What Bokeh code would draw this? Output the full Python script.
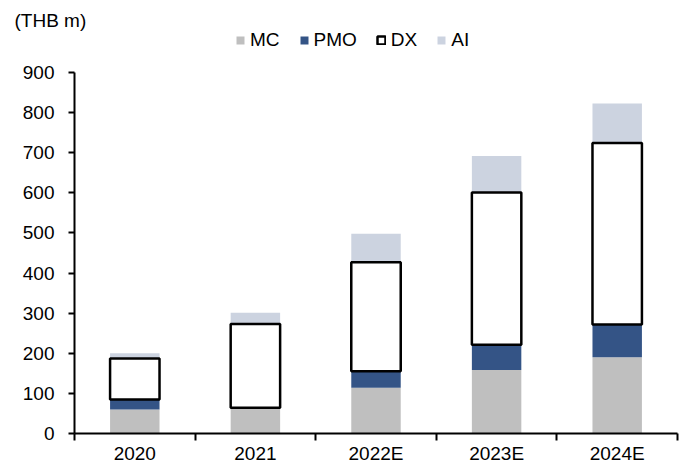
import numpy as np
from bokeh.plotting import figure
from bokeh.models import (Range1d, FixedTicker, Legend, LegendItem,
                          ColumnDataSource)
from bokeh.embed import file_html
from bokeh.resources import INLINE

# Revenue by segment (THB m)
years = ["2020", "2021", "2022E", "2023E", "2024E"]
mc = [60, 64, 114, 158, 190]
pmo = [25, 0, 41, 63, 82]
dx = [102, 209, 272, 380, 452]
ai = [13, 28, 71, 91, 99]
y_ticks = [0, 100, 200, 300, 400, 500, 600, 700, 800, 900]

FONT = "Liberation Sans"
FS = "19px"
C_MC = "#bfbfbf"
C_PMO = "#345486"
C_AI = "#ccd3e0"

x = np.arange(len(years)) + 0.5
mc_top = np.array(mc, dtype=float)
pmo_top = mc_top + np.array(pmo)
dx_top = pmo_top + np.array(dx)
ai_top = dx_top + np.array(ai)

src = ColumnDataSource(dict(
    x=x, zero=np.zeros(len(years)),
    mc_top=mc_top, pmo_top=pmo_top, dx_top=dx_top, ai_top=ai_top,
))

# frame spans y = 27..433 px; 900 sits at y = 72 px, the rest is legend room
FRAME_TOP, FRAME_BOTTOM, Y900 = 27, 433, 72
y_end = 900 * (FRAME_BOTTOM - FRAME_TOP) / (FRAME_BOTTOM - Y900)

p = figure(width=685, height=466, x_range=Range1d(0, len(years)),
           y_range=Range1d(0, y_end), output_backend="svg",
           toolbar_location=None, min_border_left=74, min_border_right=8,
           min_border_top=FRAME_TOP, min_border_bottom=466 - FRAME_BOTTOM)
p.xgrid.visible = False
p.ygrid.visible = False
p.outline_line_color = None
p.background_fill_color = "white"
p.border_fill_color = "white"

p.title.text = "(THB m)"
p.title.text_font = FONT
p.title.text_font_size = FS
p.title.text_font_style = "normal"
p.title.text_color = "black"
p.title.align = "left"
p.title.offset = -60
p.title.standoff = -7

W = 0.41
r_mc = p.vbar(x="x", bottom="zero", top="mc_top", width=W, source=src,
              fill_color=C_MC, line_color=None)
r_pmo = p.vbar(x="x", bottom="mc_top", top="pmo_top", width=W, source=src,
               fill_color=C_PMO, line_color=None)
r_ai = p.vbar(x="x", bottom="dx_top", top="ai_top", width=W, source=src,
              fill_color=C_AI, line_color=None)
r_dx = p.vbar(x="x", bottom="pmo_top", top="dx_top", width=W, source=src,
              fill_color="white", line_color="black", line_width=2.5)

# x axis: labels at category centres, tick marks on category boundaries
xa = p.xaxis[0]
xa.ticker = FixedTicker(ticks=list(x), minor_ticks=list(range(len(years) + 1)))
xa.major_label_overrides = {float(v): y for v, y in zip(x, years)}
xa.major_tick_out = 0
xa.major_tick_in = 0
xa.minor_tick_out = 7
xa.minor_tick_in = 0
xa.minor_tick_line_color = "black"
xa.minor_tick_line_width = 2
xa.axis_line_color = "black"
xa.axis_line_width = 2
xa.major_label_standoff = 2
xa.major_label_text_font = FONT
xa.major_label_text_font_size = FS
xa.major_label_text_color = "black"

ya = p.yaxis[0]
ya.ticker = FixedTicker(ticks=y_ticks, minor_ticks=[])
ya.bounds = (0, 900)
ya.major_tick_out = 6
ya.major_tick_in = 0
ya.axis_line_color = "black"
ya.axis_line_width = 2
ya.major_tick_line_width = 2
ya.major_label_standoff = 14
ya.major_label_text_font = FONT
ya.major_label_text_font_size = FS
ya.major_label_text_color = "black"

legend = Legend(items=[
    LegendItem(label="MC", renderers=[r_mc]),
    LegendItem(label="PMO", renderers=[r_pmo]),
    LegendItem(label="DX", renderers=[r_dx]),
    LegendItem(label="AI", renderers=[r_ai]),
], orientation="horizontal", location=(161, FRAME_BOTTOM - 51))
legend.label_text_font = FONT
legend.label_text_font_size = FS
legend.label_text_color = "black"
legend.glyph_width = 10
legend.glyph_height = 10
legend.label_standoff = 5
legend.spacing = 19
legend.padding = 0
legend.margin = 0
legend.border_line_color = None
legend.background_fill_alpha = 0
p.add_layout(legend)

open("out.html", "w").write(file_html(p, INLINE))
